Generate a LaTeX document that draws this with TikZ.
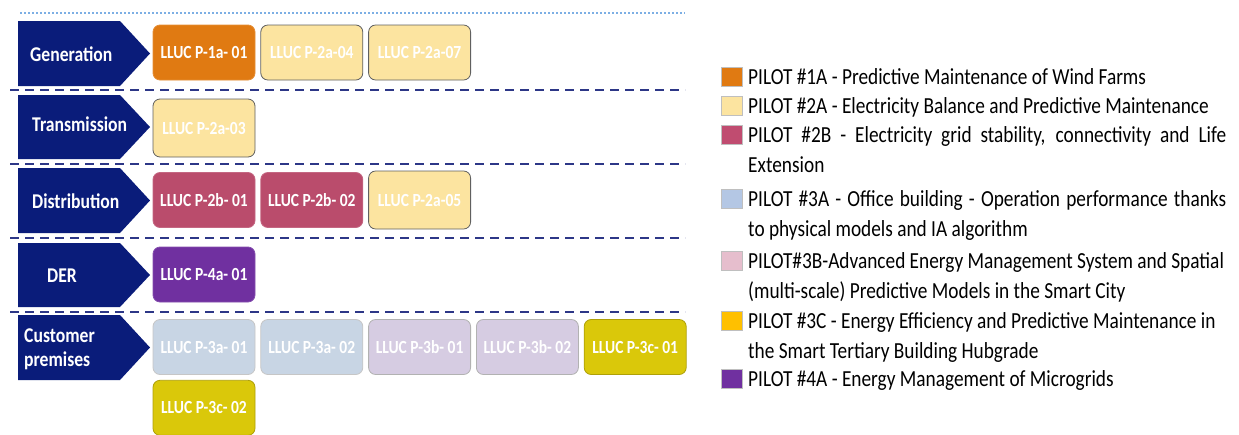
\documentclass[tikz,border=0pt]{standalone}
\usepackage{fontspec}
\setmainfont{Carlito}[FakeStretch=0.84]
\usepackage{tikz}
\usetikzlibrary{positioning}
\definecolor{lanenavy}{RGB}{10,28,122}
\definecolor{sepnavy}{RGB}{45,55,135}
\definecolor{toplineblue}{RGB}{125,175,228}
\definecolor{pOneA}{RGB}{224,122,18}
\definecolor{pTwoA}{RGB}{252,228,160}
\definecolor{pTwoB}{RGB}{186,76,108}
\definecolor{pThreeA}{RGB}{200,213,228}
\definecolor{pThreeB}{RGB}{214,204,226}
\definecolor{pThreeC}{RGB}{218,200,10}
\definecolor{pFourA}{RGB}{112,48,160}
\definecolor{kTwoB}{RGB}{192,76,112}
\definecolor{kThreeA}{RGB}{180,199,228}
\definecolor{kThreeB}{RGB}{230,190,205}
\definecolor{kThreeC}{RGB}{255,192,0}
\tikzset{
  lanefill/.style={fill=lanenavy},
  lanelabel/.style={anchor=west, text=white, align=left, inner sep=0pt,
    font=\bfseries\fontsize{21}{24}\selectfont},
  llucbox/.style={draw, rounded corners=7pt, line width=0.8pt,
    minimum width=102pt, minimum height=55pt, inner sep=0pt,
    text=white, font=\bfseries\fontsize{18.5}{20}\selectfont},
  keybox/.style={draw=gray!50, line width=0.5pt,
    minimum width=21pt, minimum height=19pt, inner sep=0pt},
  keytext/.style={anchor=base west, inner sep=0pt, text width=478pt,
    align=justify, font=\fontsize{23}{30}\selectfont},
  rowsep/.style={sepnavy, line width=2.2pt, dash pattern=on 9pt off 6pt},
  topline/.style={toplineblue, line width=1.3pt, dash pattern=on 2pt off 2pt},
}
% lane chevron: top, bottom
\newcommand{\lanechevron}[2]{%
  \fill[lanefill] (18,#1) -- (120,#1) -- (150,{(#1+#2)/2}) -- (120,#2) -- (18,#2) -- cycle;}

\begin{document}
\begin{tikzpicture}[x=1pt, y=-1pt]
  \useasboundingbox (0,0) rectangle (1239,434);

  % Row separators
  \draw[topline] (20,13) -- (685,13);
  \foreach \y in {90,164,238,312}
    \draw[rowsep] (10,\y) -- (685,\y);

  % Lanes
  \lanechevron{21}{86}
  \lanechevron{95}{159}
  \lanechevron{168}{233}
  \lanechevron{243}{307}
  \lanechevron{315}{380}

  \node[lanelabel] (genl) at (30,54) {Generation};
  \node[lanelabel] (tral) at (32,124) {Transmission};
  \node[lanelabel] (disl) at (32,201) {Distribution};
  \node[lanelabel] (derl) at (47,276) {DER};
  \node[lanelabel] (cusl) at (24,349) {Customer\\premises};

  % Generation
  \node[llucbox, fill=pOneA, draw=pOneA!85!white] (g1) at (204,52.5) {LLUC P-1a- 01};
  \node[llucbox, fill=pTwoA, draw=gray!75!black, right=5pt of g1] (g2) {LLUC P-2a-04};
  \node[llucbox, fill=pTwoA, draw=gray!75!black, right=5pt of g2] (g3) {LLUC P-2a-07};

  % Transmission
  \node[llucbox, fill=pTwoA, draw=gray!75!black, minimum height=58pt] (t1) at (204,128) {LLUC P-2a-03};

  % Distribution
  \node[llucbox, fill=pTwoB, draw=pTwoB!85!white] (d1) at (204,200) {LLUC P-2b- 01};
  \node[llucbox, fill=pTwoB, draw=pTwoB!85!white, right=5pt of d1] (d2) {LLUC P-2b- 02};
  \node[llucbox, fill=pTwoA, draw=gray!75!black, minimum height=58pt, right=5pt of d2] (d3) {LLUC P-2a-05};

  % DER
  \node[llucbox, fill=pFourA, draw=pFourA!85!white] (r1) at (204,274.5) {LLUC P-4a- 01};

  % Customer premises
  \node[llucbox, fill=pThreeA, draw=gray!45] (c1) at (204,347) {LLUC P-3a- 01};
  \node[llucbox, fill=pThreeA, draw=gray!45, right=5pt of c1] (c2) {LLUC P-3a- 02};
  \node[llucbox, fill=pThreeB, draw=gray!60, right=5pt of c2] (c3) {LLUC P-3b- 01};
  \node[llucbox, fill=pThreeB, draw=gray!60, right=5pt of c3] (c4) {LLUC P-3b- 02};
  \node[llucbox, fill=pThreeC, draw=pThreeC!80!black, right=5pt of c4] (c5) {LLUC P-3c- 01};
  \node[llucbox, fill=pThreeC, draw=pThreeC!80!black, below=5pt of c1] (c6) {LLUC P-3c- 02};

  % Legend
  \node[keybox, fill=pOneA] (k1) at (731.5,77) {};
  \node[keybox, fill=pTwoA] (k2) at (731.5,106) {};
  \node[keybox, fill=kTwoB] (k3) at (731.5,135) {};
  \node[keybox, fill=kThreeA] (k4) at (731.5,199) {};
  \node[keybox, fill=kThreeB] (k5) at (731.5,261) {};
  \node[keybox, fill=kThreeC] (k6) at (731.5,321) {};
  \node[keybox, fill=pFourA] (k7) at (731.5,379) {};

  \node[keytext] (l1) at (748,84.5) {PILOT \#1A - Predictive Maintenance of Wind Farms};
  \node[keytext] (l2) at (748,113.5) {PILOT \#2A - Electricity Balance and Predictive Maintenance};
  \node[keytext] (l3) at (748,142.5) {PILOT \#2B - Electricity grid stability, connectivity and Life\linebreak Extension};
  \node[keytext] (l4) at (748,206.5) {PILOT \#3A - Office building - Operation performance thanks\linebreak to physical models and IA algorithm};
  \node[keytext] (l5) at (748,268.5) {PILOT\#3B-Advanced Energy Management System and Spatial\newline (multi-scale) Predictive Models in the Smart City};
  \node[keytext] (l6) at (748,328.5) {PILOT \#3C - Energy Efficiency and Predictive Maintenance in\newline the Smart Tertiary Building Hubgrade};
  \node[keytext] (l7) at (748,386.5) {PILOT \#4A - Energy Management of Microgrids};
\end{tikzpicture}
\end{document}
